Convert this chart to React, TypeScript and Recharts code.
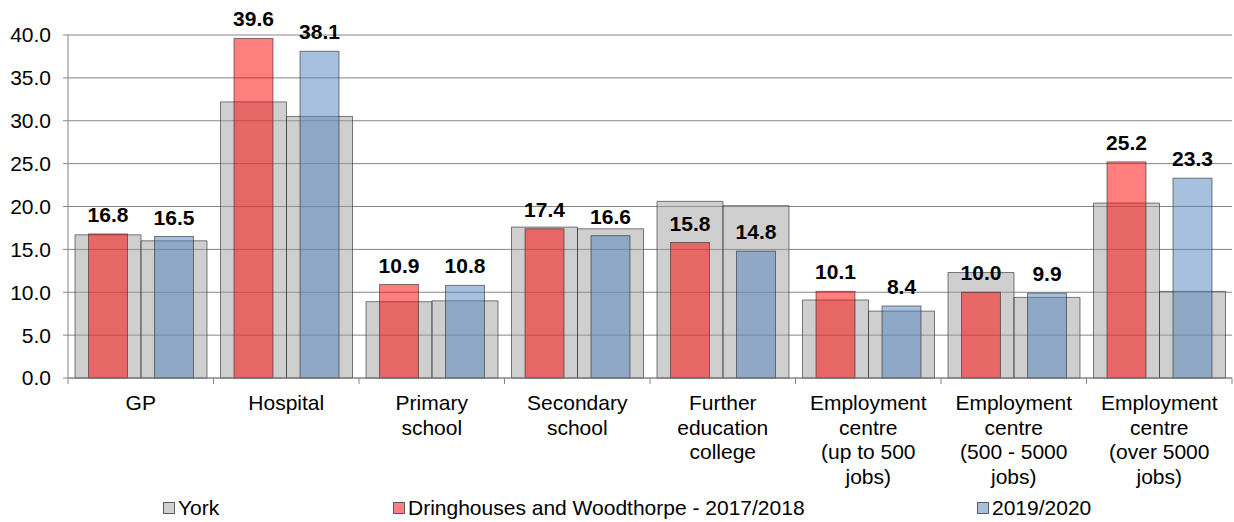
import { BarChart, Bar, XAxis, YAxis, CartesianGrid, LabelList } from "recharts";

const categories = [
  "GP",
  "Hospital",
  "Primary\nschool",
  "Secondary\nschool",
  "Further\neducation\ncollege",
  "Employment\ncentre\n(up to 500\njobs)",
  "Employment\ncentre\n(500 - 5000\njobs)",
  "Employment\ncentre\n(over 5000\njobs)",
];
const york1718 = [16.7, 32.2, 8.9, 17.6, 20.6, 9.1, 12.3, 20.4];
const york1920 = [16.0, 30.5, 9.0, 17.4, 20.1, 7.8, 9.4, 10.1];
const dring1718 = [16.8, 39.6, 10.9, 17.4, 15.8, 10.1, 10.0, 25.2];
const dring1920 = [16.5, 38.1, 10.8, 16.6, 14.8, 8.4, 9.9, 23.3];
const yTicks = [0, 5, 10, 15, 20, 25, 30, 35, 40];

const data = categories.map((c, i) => ({
  category: c,
  york1718: york1718[i],
  york1920: york1920[i],
  dring1718: dring1718[i],
  dring1920: dring1920[i],
}));

const W = 1234;
const H = 522;
const MARGIN = { top: 35, right: 2, left: 0, bottom: 0 };
const Y_AXIS_W = 68;
const BAND = (W - MARGIN.left - MARGIN.right - Y_AXIS_W) / categories.length;
const FONT = "'Liberation Sans', Arial, sans-serif";
const AXIS = "#868686";
const NARROW = 0.59;

// coloured bars sit inside the grey ones, narrower
const NarrowBar = (props: any) => {
  const { x, y, width, height, fill } = props;
  if (!height || height <= 0) return null;
  const w = width * NARROW;
  return (
    <rect
      x={x + (width - w) / 2}
      y={y}
      width={w}
      height={height}
      fill={fill}
      fillOpacity={0.5}
      stroke="#2a2a2a"
      strokeOpacity={0.6}
      strokeWidth={1}
    />
  );
};

const CategoryTick = (props: any) => {
  const { x, y, payload, index } = props;
  const half = BAND / 2;
  const lines = String(payload.value).split("\n");
  return (
    <g>
      <line x1={x - half} x2={x - half} y1={y} y2={y + 6} stroke={AXIS} />
      {index === categories.length - 1 && (
        <line x1={x + half} x2={x + half} y1={y} y2={y + 6} stroke={AXIS} />
      )}
      <text x={x} y={y + 32} textAnchor="middle" fontSize={21} fontFamily={FONT} fill="#000">
        {lines.map((l, i) => (
          <tspan key={i} x={x} dy={i === 0 ? 0 : 24.5}>
            {l}
          </tspan>
        ))}
      </text>
    </g>
  );
};

const legendItems = [
  { label: "York", color: "#d0d0d0", left: 163 },
  { label: "Dringhouses and Woodthorpe - 2017/2018", color: "#ff8080", left: 393 },
  { label: "2019/2020", color: "#a7bfde", left: 977 },
];

export default function App() {
  return (
    <div style={{ position: "absolute", left: 0, top: 0, width: W, height: H, background: "#fff" }}>
      <BarChart width={W} height={H} data={data} margin={MARGIN} barGap={0} barCategoryGap={7}>
        <CartesianGrid vertical={false} stroke={AXIS} />
        <XAxis
          xAxisId="york"
          dataKey="category"
          height={144}
          interval={0}
          tickLine={false}
          tickSize={0}
          tickMargin={0}
          axisLine={{ stroke: AXIS }}
          tick={<CategoryTick />}
        />
        <XAxis xAxisId="dr" dataKey="category" height={0} hide />
        <YAxis
          width={Y_AXIS_W}
          domain={[0, 40]}
          ticks={yTicks}
          interval={0}
          tickFormatter={(v: number) => v.toFixed(1)}
          tickSize={5}
          tickMargin={12}
          axisLine={{ stroke: AXIS }}
          tickLine={{ stroke: AXIS }}
          tick={{ fontSize: 21, fontFamily: FONT, fill: "#000" }}
        />
        <Bar xAxisId="york" dataKey="york1718" name="York" fill="#a0a0a0" fillOpacity={0.5}
          stroke="#2a2a2a" strokeOpacity={0.6} isAnimationActive={false} />
        <Bar xAxisId="york" dataKey="york1920" name="York" fill="#a0a0a0" fillOpacity={0.5}
          stroke="#2a2a2a" strokeOpacity={0.6} isAnimationActive={false} />
        <Bar xAxisId="dr" dataKey="dring1718" name="Dringhouses and Woodthorpe - 2017/2018"
          fill="#ff0000" shape={<NarrowBar />} isAnimationActive={false}>
          <LabelList dataKey="dring1718" position="top" offset={12}
            formatter={(v: any) => Number(v).toFixed(1)}
            fontSize={21} fontWeight="bold" fontFamily={FONT} fill="#000" />
        </Bar>
        <Bar xAxisId="dr" dataKey="dring1920" name="2019/2020"
          fill="#4f81bd" shape={<NarrowBar />} isAnimationActive={false}>
          <LabelList dataKey="dring1920" position="top" offset={12}
            formatter={(v: any) => Number(v).toFixed(1)}
            fontSize={21} fontWeight="bold" fontFamily={FONT} fill="#000" />
        </Bar>
      </BarChart>
      {legendItems.map((it) => (
        <div
          key={it.label}
          style={{
            position: "absolute",
            left: it.left,
            top: 497,
            height: 21,
            lineHeight: "21px",
            fontSize: 21,
            fontFamily: FONT,
            color: "#000",
            whiteSpace: "nowrap",
          }}
        >
          <span
            style={{
              position: "absolute",
              left: 0,
              top: 5,
              width: 10,
              height: 10,
              background: it.color,
              border: "1px solid #5a5a5a",
            }}
          />
          <span style={{ marginLeft: 15 }}>{it.label}</span>
        </div>
      ))}
    </div>
  );
}
